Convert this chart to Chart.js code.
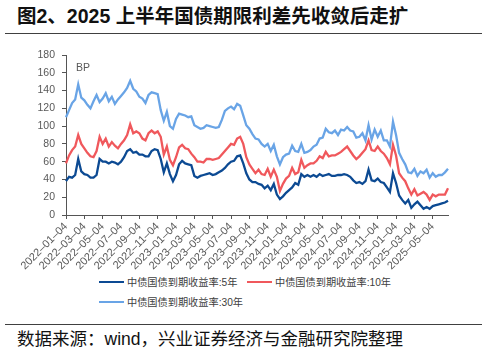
<!DOCTYPE html>
<html><head><meta charset="utf-8">
<script src="https://cdn.jsdelivr.net/npm/chart.js@4/dist/chart.umd.min.js"></script>
<style>
body{margin:0;width:487px;height:354px;background:#fff;position:relative;overflow:hidden;font-family:"Liberation Sans","Noto Sans CJK SC",sans-serif;}
#title{position:absolute;left:17px;top:4px;font-size:19.5px;font-weight:bold;line-height:24px;color:#111;white-space:nowrap;}
.rule{position:absolute;left:5px;width:477px;height:1.5px;background:#404040;}
#wrap{position:absolute;left:0;top:40px;width:487px;height:232px;}
.leg{position:absolute;font-size:10.2px;color:#404040;line-height:12px;white-space:nowrap;}
.leg i{display:inline-block;width:25px;height:2px;vertical-align:middle;margin-right:3px;position:relative;top:-1px;}
#src{position:absolute;left:17px;top:328px;font-size:17.5px;line-height:22px;color:#111;white-space:nowrap;}
</style></head>
<body>
<div id="title">图2、2025 上半年国债期限利差先收敛后走扩</div>
<div class="rule" style="top:32.5px"></div>
<div id="wrap"><canvas id="c" width="487" height="232"></canvas></div>
<div id="legend"></div>
<div class="rule" style="top:323.5px"></div>
<div id="src">数据来源：wind，兴业证券经济与金融研究院整理</div>
<script>
const seriesNames = ['中债国债到期收益率:5年','中债国债到期收益率:10年','中债国债到期收益率:30年'];
const seriesColors = ['#0C4A93','#F0585C','#69A4E6'];
const unitLabel = 'BP';
const tickLabels = ['2022–01–04','2022–03–04','2022–05–04','2022–07–04','2022–09–04','2022–11–04',
 '2023–01–04','2023–03–04','2023–05–04','2023–07–04','2023–09–04','2023–11–04',
 '2024–01–04','2024–03–04','2024–05–04','2024–07–04','2024–09–04','2024–11–04',
 '2025–01–04','2025–03–04','2025–05–04'];
const yTicks = [0,20,40,60,80,100,120,140,160,180];

// categories: sample dates (4th, 14th, 24th of each month), 2022-01 .. 2025-06
const categories = [];
for (let y = 2022; y <= 2025; y++) {
  for (let m = 1; m <= 12; m++) {
    if (y === 2025 && m > 6) break;
    for (const d of ['04','14','24']) categories.push(y + '–' + String(m).padStart(2,'0') + '–' + d);
  }
}

const spread5 = [
 38,43,42, 45,63,49, 46,45,42, 42,45,63, 60,60,58, 60,59,57, 60,65,72, 74,70,71, 68,68,66, 66,72,74, 73,63,48, 58,46,38,
 45,57,61, 58,57,56, 44,42,44, 45,46,47, 45,46,48, 50,53,57, 60,61,66, 67,58,47, 40,37,37, 35,34,30, 33,28,35, 23,18,21,
 25,28,31, 36,34,46, 43,45,43, 45,43,46, 44,45,46, 44,44,45, 45,46,45, 43,39,36, 37,35,38, 51,39,38, 41,37,36, 31,26,47,
 36,22,17, 13,17,8, 12,15,11, 7,9,7, 10,11,12, 13,14,16];
const spread10 = [
 58,67,73, 77,90,80, 75,70,66, 65,72,88, 80,86,77, 82,78,75, 80,84,90, 102,92,94, 92,86,84, 92,95,92, 94,88,68, 77,62,56,
 65,76,79, 75,74,69, 65,60,60, 59,63,63, 62,63,64, 68,72,76, 80,79,86, 88,80,65, 57,52,47, 51,46,45, 52,43,51, 43,27,35,
 41,44,53, 46,48,62, 53,56,58, 58,61,66, 64,71,66, 67,67,69, 71,74,77, 72,67,63, 66,70,74, 84,73,72, 77,72,69, 64,57,79,
 67,47,42, 38,30,23, 29,22,24, 26,23,17, 23,21,23, 23,23,30];
const spread30 = [
 110,118,126, 130,147,132, 129,124,120, 128,135,127, 131,137,128, 133,125,130, 134,138,143, 151,142,139, 133,131,126, 135,138,137, 136,118,106, 116,100,97,
 108,114,113, 112,110,111, 101,99,97, 98,101,100, 99,98,99, 107,117,120, 122,119,125, 123,112,101, 97,91,86, 85,80,77, 80,72,79, 66,57,65,
 68,69,78, 72,71,80, 70,71,73, 77,79,86, 87,97,93, 92,95,90, 96,95,99, 95,94,87, 88,92,84, 101,85,96, 88,95,84, 84,77,105,
 90,70,63, 57,48,47, 52,44,49, 47,51,42, 47,43,45, 45,48,52];

const seriesValues = [spread5, spread10, spread30];

// legend (HTML)
const legPos = [[99,276.5],[247,276.5],[99,296.5]];
const legend = document.getElementById('legend');
seriesNames.forEach((n,i)=>{
  const d = document.createElement('div');
  d.className='leg';
  d.style.left = legPos[i][0]+'px'; d.style.top = legPos[i][1]+'px';
  d.innerHTML = '<i style="background:'+seriesColors[i]+'"></i>'+n;
  legend.appendChild(d);
});

const bpPlugin = {id:'bp', afterDraw(c){
  const ctx=c.ctx; ctx.save();
  ctx.font='10.5px "Liberation Sans"'; ctx.fillStyle='#595959'; ctx.textBaseline='middle';
  ctx.fillText(unitLabel, c.chartArea.left+10, c.scales.y.getPixelForValue(165));
  ctx.restore();
}};

const isTick = (i)=> tickLabels.includes(categories[i]);

new Chart(document.getElementById('c'), {
  type:'line',
  data:{labels:categories, datasets: seriesValues.map((v,i)=>({
    label:seriesNames[i], data:v, borderColor:seriesColors[i], borderWidth:2.3,
    pointRadius:0, tension:0, fill:false, order: 3-i
  }))},
  options:{
    responsive:false, animation:false, devicePixelRatio:1,
    layout:{padding:{top:15,right:39,left:0,bottom:0}},
    plugins:{legend:{display:false}, tooltip:{enabled:false}},
    scales:{
      x:{type:'category', offset:false,
        border:{color:'#555',width:1},
        grid:{drawOnChartArea:false, drawTicks:true, tickLength:4,
          color:(ctx)=> isTick(ctx.index) ? '#555' : 'rgba(0,0,0,0)'},
        ticks:{autoSkip:false, maxRotation:45, minRotation:45, padding:1,
          font:{size:11, family:'Liberation Sans'}, color:'#595959',
          callback:function(v,i){ const l=categories[i]; return tickLabels.includes(l)? l : ''; }},
        afterFit(s){ s.height=57; }
      },
      y:{min:0, max:180,
        border:{color:'#555',width:1},
        grid:{drawOnChartArea:false, tickLength:4, color:'#555'},
        afterBuildTicks(s){ s.ticks = yTicks.map(v=>({value:v})); },
        ticks:{padding:7, font:{size:10.5, family:'Liberation Sans'}, color:'#595959'},
        afterFit(s){ s.width=66; }
      }
    }
  },
  plugins:[bpPlugin]
});
</script>
</body></html>
